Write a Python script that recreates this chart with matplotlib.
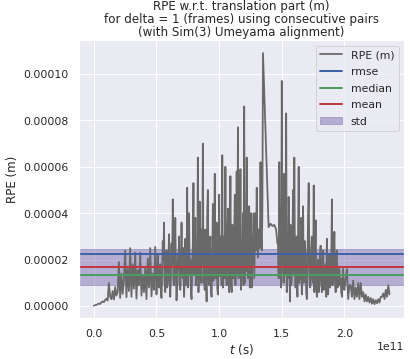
import numpy as np
import matplotlib
matplotlib.use("Agg")
import matplotlib.pyplot as plt
import seaborn as sns

sns.set_theme(style="darkgrid", context="notebook")
plt.rcParams['font.family'] = ['DejaVu Sans']
plt.rcParams.update({
    "xtick.major.size": 0, "ytick.major.size": 0,
    "xtick.major.pad": 10.5, "ytick.major.pad": 10.5,
})

# timestamps in units of 1e9 s, RPE in units of 1e-6 m
t_seg1 = list(range(0, 50))
rpe_seg1 = [
    0.2, 0.4, 0.5, 0.8, 1.1, 0.9, 1.6, 2.0, 1.7, 2.6,
    3.2, 2.4, 10.0, 4.1, 3.0, 6.5, 2.8, 8.2, 4.5, 6.0,
    19.0, 3.5, 14.0, 5.2, 11.5, 24.0, 3.8, 16.0, 6.5, 25.0,
    4.0, 18.0, 7.5, 23.0, 3.2, 15.5, 9.0, 23.0, 4.5, 13.0,
    6.0, 17.0, 3.0, 20.5, 8.0, 25.0, 4.2, 14.0, 7.0, 25.5,
]
t_seg2 = list(np.arange(50.0, 135.0, 0.5))
rpe_seg2 = [
    5, 12, 22, 9, 8, 16, 18, 6, 3.5, 14,
    28, 20, 36, 11, 6, 15, 24, 8, 11, 19,
    31, 10, 4, 13, 27, 18, 46, 12, 9, 22,
    38, 14, 2.5, 10, 22, 16, 30, 9, 7, 19,
    36, 15, 12, 25, 4, 11, 29, 20, 9, 51,
    8, 22, 40, 14, 20, 6, 3, 18, 27, 53,
    14, 25, 38, 9, 20, 12, 64, 6, 18, 45,
    26, 10, 33, 18, 70, 10, 22, 7, 33, 15,
    2, 40, 50, 12, 9, 24, 30, 6, 4, 18,
    44, 11, 20, 57, 12, 27, 36, 8, 5, 22,
    48, 13, 30, 19, 9, 65, 8, 24, 30, 12,
    60, 15, 9, 28, 42, 18, 6, 24, 56, 10,
    6, 35, 20, 12, 31, 48, 9, 24, 58, 14,
    77, 12, 30, 18, 59, 7, 22, 13, 40, 9,
    86, 10, 28, 15, 64, 30, 12, 33, 43, 8,
    22, 40, 8, 30, 18, 40, 12, 27, 40, 24,
    51, 28, 21, 33, 29, 25, 62, 30, 24, 40,
]
t_seg3 = [135.0, 139.5, 141.0, 142.5, 144.0, 145.5, 146.5]
rpe_seg3 = [109.0, 34.0, 35.5, 34.5, 35.0, 33.0, 27.0]
t_seg4 = list(np.arange(147.0, 200.0, 0.5))
rpe_seg4 = [
    27, 12, 62, 20, 15, 8, 97, 30, 20, 10,
    57, 14, 18, 83, 6, 25, 12, 47, 30, 2,
    35, 9, 12, 28, 50, 14, 64, 20, 8, 30,
    15, 4, 30, 60, 10, 22, 12, 38, 5, 18,
    43, 10, 14, 28, 22, 6, 3, 16, 40, 53,
    18, 8, 9, 25, 30, 12, 10, 52, 6, 18,
    37, 9, 4, 15, 20, 6, 9, 22, 26, 12,
    6, 18, 24, 7, 10, 15, 18, 4, 29, 12,
    5, 14, 22, 8, 10, 17, 46, 9, 14, 24,
    32, 11, 6, 20, 24, 8, 10, 16, 16, 9,
    12, 6, 4, 10, 16, 8,
]
t_seg5 = list(range(200, 237))
rpe_seg5 = [
    7, 12, 16, 3, 9, 9, 4, 11, 3, 8,
    4, 10, 3, 10, 4, 6, 2, 5, 2, 4,
    1.5, 3.5, 1, 3, 0.8, 2.5, 1.2, 3, 1.5, 4,
    4, 5.5, 3, 7, 4, 9, 5,
]

stat_rmse = 22.4
stat_median = 13.4
stat_mean = 16.9
stat_std = 7.9

t = np.array(t_seg1 + t_seg2 + t_seg3 + t_seg4 + t_seg5, dtype=float) * 1e9
rpe = np.array(rpe_seg1 + rpe_seg2 + rpe_seg3 + rpe_seg4 + rpe_seg5, dtype=float) * 1e-6

DPI = 71.4
fig = plt.figure(figsize=(410.3 / DPI, 359.3 / DPI), dpi=DPI)
ax = fig.add_axes([0.1927, 0.1134, 0.7927, 0.7732])

ax.plot(t, rpe, color="dimgray", lw=1.8, label="RPE (m)")
ax.axhline(stat_rmse * 1e-6, color="#3f62a8", lw=2.0, label="rmse")
ax.axhline(stat_median * 1e-6, color="#4a9e60", lw=2.0, label="median")
ax.axhline(stat_mean * 1e-6, color="#c0393f", lw=2.0, label="mean")
ax.axhspan((stat_mean - stat_std) * 1e-6, (stat_mean + stat_std) * 1e-6,
           color="#8172b2", alpha=0.5, label="std")

ax.set_xlabel("$t$ (s)", labelpad=3)
ax.set_ylabel("RPE (m)")
ax.set_title("RPE w.r.t. translation part (m)\nfor delta = 1 (frames) using consecutive pairs\n(with Sim(3) Umeyama alignment)",
             linespacing=1.0, pad=5)
ax.legend(loc="upper right", frameon=True, labelspacing=0.6)

fig.savefig("out.png", dpi=DPI)
